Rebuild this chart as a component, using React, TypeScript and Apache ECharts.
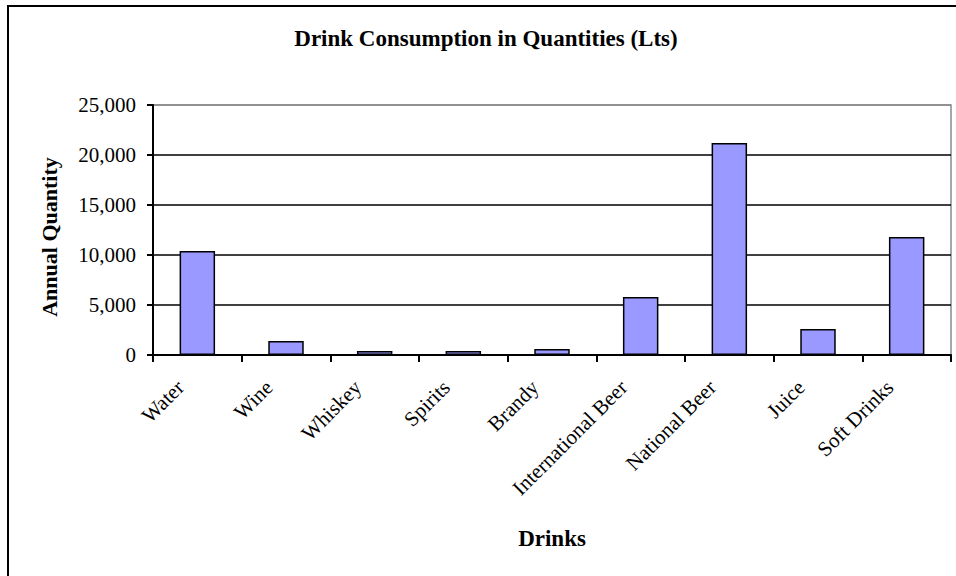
import React, { useEffect, useRef } from "react";
import * as echarts from "echarts";

// Annual drink consumption in litres
const drinks = [
  "Water",
  "Wine",
  "Whiskey",
  "Spirits",
  "Brandy",
  "International Beer",
  "National Beer",
  "Juice",
  "Soft Drinks",
];
const annualQuantity = [10400, 1400, 400, 400, 600, 5800, 21200, 2600, 11800];

const yTicks = { min: 0, max: 25000, interval: 5000 };

const FONT = "'Liberation Serif', 'Times New Roman', serif";

export default function App() {
  const ref = useRef<HTMLDivElement>(null);

  useEffect(() => {
    if (!ref.current) return;
    const chart = echarts.init(ref.current, undefined, { renderer: "svg" });
    chart.setOption({
      animation: false,
      backgroundColor: "#ffffff",
      textStyle: { fontFamily: FONT, color: "#000" },
      graphic: [
        {
          type: "rect",
          shape: { x: 8, y: 6, width: 960, height: 590 },
          style: { fill: "none", stroke: "#000", lineWidth: 2 },
          z: -1,
        },
        {
          type: "text",
          x: 486,
          y: 38,
          style: {
            text: "Drink Consumption in Quantities (Lts)",
            font: `bold 23px ${FONT}`,
            fill: "#000",
            textAlign: "center",
            textVerticalAlign: "middle",
          },
        },
        {
          type: "text",
          x: 49,
          y: 237,
          rotation: Math.PI / 2,
          style: {
            text: "Annual Quantity",
            font: `bold 22px ${FONT}`,
            fill: "#000",
            textAlign: "center",
            textVerticalAlign: "middle",
          },
        },
      ],
      grid: {
        left: 153,
        top: 105,
        right: 5,
        bottom: 221,
        show: true,
        borderColor: "#8a8a8a",
        borderWidth: 1.5,
        backgroundColor: "#fff",
      },
      xAxis: {
        type: "category",
        data: drinks,
        boundaryGap: true,
        name: "Drinks",
        nameLocation: "middle",
        nameGap: 172,
        nameTextStyle: {
          fontFamily: FONT,
          fontWeight: "bold",
          fontSize: 23,
          color: "#000",
        },
        axisLine: { lineStyle: { color: "#000", width: 2 } },
        axisTick: { show: true, length: 7, lineStyle: { color: "#000", width: 2 } },
        axisLabel: {
          interval: 0,
          rotate: 45,
          margin: 12,
          padding: [0, 24, 0, 0],
          fontFamily: FONT,
          fontSize: 21,
          color: "#000",
        },
      },
      yAxis: {
        type: "value",
        min: yTicks.min,
        max: yTicks.max,
        interval: yTicks.interval,
        axisLine: { show: true, lineStyle: { color: "#000", width: 2 } },
        axisTick: { show: true, length: 6, lineStyle: { color: "#000", width: 2 } },
        axisLabel: {
          margin: 17,
          fontFamily: FONT,
          fontSize: 21,
          color: "#000",
          formatter: (v: number) => v.toLocaleString("en-US"),
        },
        splitLine: {
          show: true,
          lineStyle: {
            color: ["#000", "#000", "#000", "#000", "#000", "#8a8a8a"],
            width: 1.5,
          },
        },
      },
      series: [
        {
          type: "bar",
          data: annualQuantity,
          barWidth: "40%",
          itemStyle: { color: "#9999ff", borderColor: "#000", borderWidth: 1.5 },
        },
      ],
    });
    return () => chart.dispose();
  }, []);

  return (
    <div
      ref={ref}
      style={{ position: "fixed", left: 0, top: 0, width: 956, height: 576 }}
    />
  );
}
